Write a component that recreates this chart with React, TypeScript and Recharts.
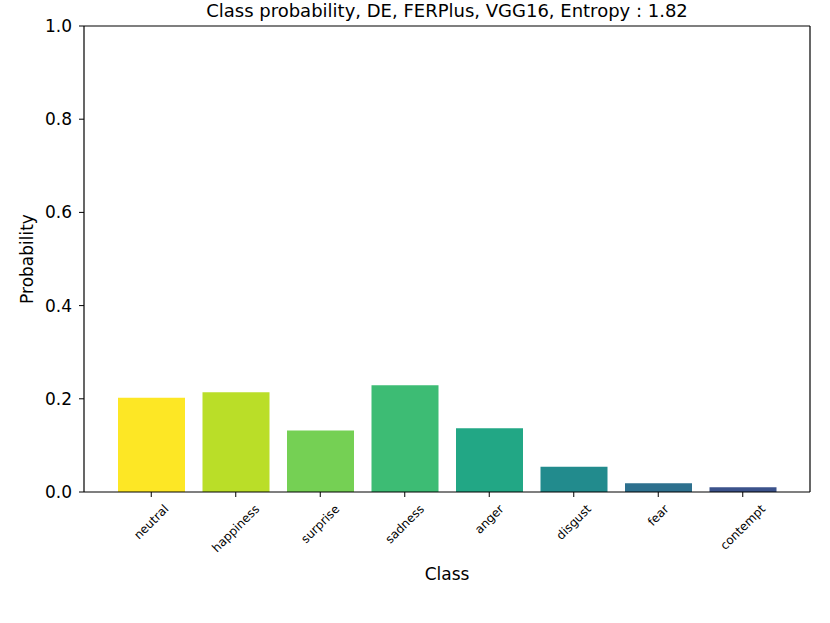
import React from "react";
import { BarChart, Bar, XAxis, YAxis, Cell, Label } from "recharts";

const categories = ["neutral", "happiness", "surprise", "sadness", "anger", "disgust", "fear", "contempt"];
const probabilities = [0.202, 0.214, 0.132, 0.229, 0.137, 0.054, 0.019, 0.010];
const barColors = ["#fde725", "#bade28", "#75d054", "#3dbc74", "#22a785", "#228b8d", "#2d708e", "#3b528b"];
const yTicks = [0, 0.2, 0.4, 0.6, 0.8, 1.0];
const titleText = "Class probability, DE, FERPlus, VGG16, Entropy : 1.82";

const data = categories.map((name, i) => ({ name, value: probabilities[i] }));

const FONT = '"DejaVu Sans", sans-serif';

let measureCtx: CanvasRenderingContext2D | null = null;
function measure(text: string, size: number): number {
  if (!measureCtx) {
    const c = document.createElement("canvas");
    measureCtx = c.getContext("2d");
  }
  if (!measureCtx) return text.length * size * 0.6;
  measureCtx.font = `${size}px "DejaVu Sans"`;
  return measureCtx.measureText(text).width;
}

const XTick = (props: any) => {
  const { x, y, payload } = props;
  const f = 12;
  const label = String(payload.value);
  const L = measure(label, f);
  const h = 1.164 * f;
  const d = (L + h) / Math.SQRT2;
  const cy = y + 3 + d / 2;
  return (
    <text
      transform={`translate(${x},${cy}) rotate(-45)`}
      textAnchor="middle"
      dominantBaseline="central"
      fontSize={f}
      fontFamily={FONT}
      fill="#000"
    >
      {label}
    </text>
  );
};

export default function App() {
  return (
    <div style={{ position: "absolute", left: 0, top: 0, width: 830, height: 623, background: "#fff" }}>
      <div
        style={{
          position: "absolute",
          left: 84,
          top: 0,
          width: 726,
          textAlign: "center",
          fontFamily: FONT,
          fontSize: 18,
          lineHeight: "normal",
          color: "#000",
          whiteSpace: "nowrap",
        }}
      >
        {titleText}
      </div>
      <BarChart
        width={830}
        height={623}
        data={data}
        margin={{ top: 25, right: 19, left: 0, bottom: 0 }}
      >
        <XAxis
          dataKey="name"
          type="category"
          padding={{ left: 25, right: 25 }}
          height={131}
          tickSize={5}
          tickLine={{ stroke: "#000" }}
          axisLine={{ stroke: "#000", strokeWidth: 1.2 }}
          tick={<XTick />}
          interval={0}
        >
          <Label
            value="Class"
            position="center"
            dy={16.5}
            style={{ fontFamily: FONT, fontSize: 17, fill: "#000" }}
          />
        </XAxis>
        <XAxis
          xAxisId="top"
          dataKey="name"
          type="category"
          orientation="top"
          height={1}
          padding={{ left: 25, right: 25 }}
          tick={false}
          tickLine={false}
          axisLine={{ stroke: "#000", strokeWidth: 1.2 }}
        />
        <YAxis
          type="number"
          domain={[0, 1]}
          ticks={yTicks}
          width={84}
          tickSize={5}
          tickMargin={7}
          tickFormatter={(v: number) => v.toFixed(1)}
          tick={{ fontFamily: FONT, fontSize: 17, fill: "#000" }}
          tickLine={{ stroke: "#000" }}
          axisLine={{ stroke: "#000", strokeWidth: 1.2 }}
        >
          <Label
            value="Probability"
            angle={-90}
            position="center"
            dx={-15}
            style={{ fontFamily: FONT, fontSize: 17, fill: "#000", textAnchor: "middle" }}
          />
        </YAxis>
        <YAxis
          yAxisId="right"
          type="number"
          orientation="right"
          width={1}
          domain={[0, 1]}
          tick={false}
          tickLine={false}
          axisLine={{ stroke: "#000", strokeWidth: 1.2 }}
        />
        <Bar dataKey="value" barSize={67} isAnimationActive={false}>
          {data.map((d, i) => (
            <Cell key={d.name} fill={barColors[i]} />
          ))}
        </Bar>
      </BarChart>
    </div>
  );
}
